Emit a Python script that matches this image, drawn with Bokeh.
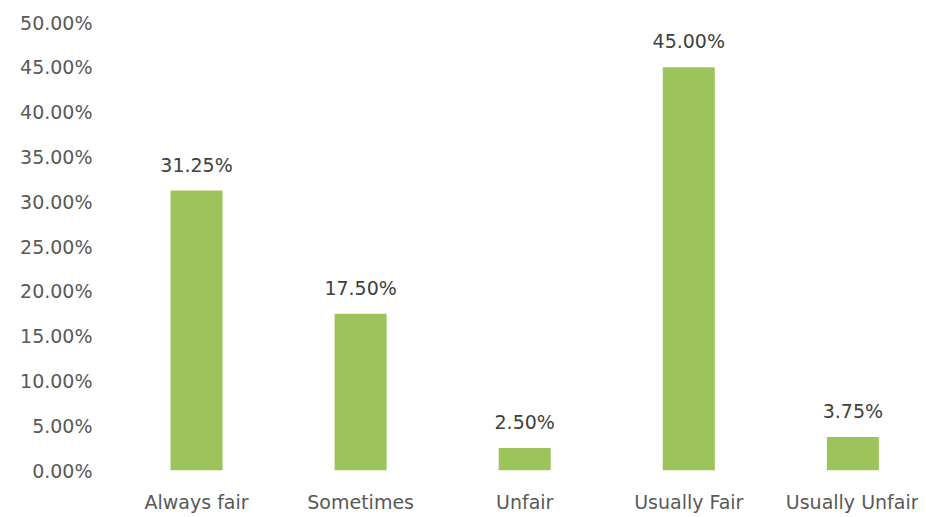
from bokeh.plotting import figure
from bokeh.models import ColumnDataSource, FixedTicker, Range1d
from bokeh.core.properties import value
from bokeh.embed import file_html
from bokeh.resources import INLINE

categories = ["Always fair", "Sometimes", "Unfair", "Usually Fair", "Usually Unfair"]
values = [31.25, 17.50, 2.50, 45.00, 3.75]
labels = ["31.25%", "17.50%", "2.50%", "45.00%", "3.75%"]
y_ticks = [0, 5, 10, 15, 20, 25, 30, 35, 40, 45, 50]

FONT = "DejaVu Sans"
x = list(range(len(categories)))
src = ColumnDataSource(dict(x=x, top=values, lab=labels))

p = figure(width=918, height=517, output_backend="svg", toolbar_location=None,
           x_range=Range1d(-0.5, 4.40), y_range=Range1d(0, 50),
           min_border_left=114, min_border_top=22, min_border_right=0, min_border_bottom=47)
p.vbar(x="x", top="top", width=0.317, bottom=0, source=src, color="#9dc35b", line_color=None)
p.text(x="x", y="top", text="lab", source=src, text_align="center", text_baseline="middle",
       y_offset=-26, text_font=value(FONT), text_font_size="19px", text_color="#404040")

p.outline_line_color = None
p.grid.visible = False
p.background_fill_color = "white"
p.border_fill_color = "white"

p.yaxis.ticker = FixedTicker(ticks=y_ticks)
p.yaxis.major_label_overrides = {t: f"{t:.2f}%" for t in y_ticks}
p.xaxis.ticker = FixedTicker(ticks=x)
p.xaxis.major_label_overrides = {i: c for i, c in enumerate(categories)}
for ax in (p.xaxis, p.yaxis):
    ax.axis_line_color = None
    ax.major_tick_line_color = None
    ax.minor_tick_line_color = None
    ax.major_tick_out = 0
    ax.major_tick_in = 0
    ax.major_label_text_font = FONT
    ax.major_label_text_font_size = "19px"
    ax.major_label_text_color = "#595959"
p.yaxis.major_label_standoff = 22
p.xaxis.major_label_standoff = 20

open("out.html", "w").write(file_html(p, INLINE))
